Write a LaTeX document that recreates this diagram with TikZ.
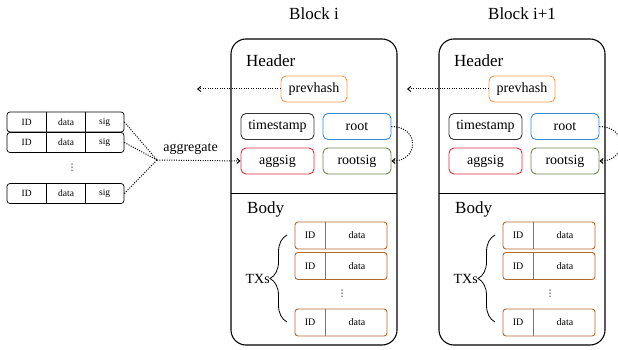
\documentclass[tikz,border=0pt]{standalone}
\usepackage{fontspec}
\setmainfont{Liberation Serif}
\newfontfamily\dotsfont{DejaVu Sans}
\usetikzlibrary{arrows.meta,decorations.pathreplacing,calc}
\definecolor{prevcol}{HTML}{F0A050}
\definecolor{rootcol}{HTML}{3A8AD6}
\definecolor{aggcol}{HTML}{D83040}
\definecolor{rootsigcol}{HTML}{6E8550}
\definecolor{tscol}{HTML}{333333}
\definecolor{txcol}{HTML}{B5672A}
\begin{document}
\begin{tikzpicture}[x=1pt,y=-1pt,
  lbl/.style={font=\fontsize{14}{16}\selectfont},
  big/.style={font=\fontsize{17}{20}\selectfont},
  small/.style={font=\fontsize{10}{12}\selectfont, inner sep=0pt},
  tiny/.style={font=\fontsize{9.5}{11}\selectfont, inner sep=0pt},
  vdot/.style={font=\dotsfont\fontsize{9}{10}\selectfont, inner sep=0pt},
  field/.style={draw, rounded corners=5pt, line width=0.9pt, minimum height=26pt, inner sep=0pt, font=\fontsize{14}{16}\selectfont},
  blockbox/.style={draw, line width=1.1pt, rounded corners=15pt, minimum width=166pt, minimum height=306pt, inner sep=0pt},
  txrow/.style={draw=txcol, line width=0.9pt, rounded corners=3pt, minimum width=92pt, minimum height=27pt, inner sep=0pt},
  cellrow/.style={draw, line width=0.7pt, rounded corners=3pt, minimum width=117pt, minimum height=20pt, inner sep=0pt},
  dotline/.style={line width=1pt, dash pattern=on 1pt off 1.4pt},
  dotarrow/.style={dotline, -{Straight Barb[length=3pt,width=5pt]}},
]
\useasboundingbox (0,0) rectangle (618,350);

\foreach \b/\dx/\t in {1/0/{Block i}, 2/208/{Block i+1}} {
  \node[blockbox] (blk\b) at (314+\dx,192) {};
  \node[big] (title\b) at (314+\dx,14) {\t};
  \node[big, anchor=base west, inner sep=0pt] (hdr\b) at (246+\dx,67) {Header};
  \draw[line width=0.9pt] (231+\dx,193) -- (397+\dx,193);
  \node[field, draw=prevcol, minimum width=66pt] (prev\b) at (314+\dx,89) {prevhash};
  \node[field, draw=tscol, minimum width=73pt] (ts\b) at (277.5+\dx,126.5) {timestamp};
  \node[field, draw=rootcol, minimum width=68pt] (root\b) at (357+\dx,126.5) {root};
  \node[field, draw=aggcol, minimum width=73pt] (agg\b) at (277.5+\dx,161) {aggsig};
  \node[field, draw=rootsigcol, minimum width=68pt] (rs\b) at (357+\dx,161) {rootsig};
  \draw[dotarrow] (root\b.east) .. controls +(28,0) and +(28,0) .. (rs\b.east);
  \node[big, anchor=base west, inner sep=0pt] (body\b) at (247+\dx,213) {Body};
  \foreach \r/\y in {1/235.5, 2/266, 3/322.5} {
    \node[txrow] (tx\b\r) at (341+\dx,\y) {};
    \draw[txcol, line width=0.9pt] (tx\b\r.north west) ++(31,0) -- ++(0,27);
    \node[small] at ($(tx\b\r.west)+(15.5,0)$) {ID};
    \node[small] at ($(tx\b\r.east)+(-30.5,0)$) {data};
  }
  \node[vdot] (vd\b) at (342+\dx,294) {⋮};
  \draw[decorate, decoration={brace, amplitude=17pt}, line width=0.8pt] (287+\dx,322) -- (287+\dx,235);
  \node[lbl, anchor=east, inner sep=0pt] (txs\b) at (270+\dx,278.5) {TXs};
}

% left stack of signed transactions
\foreach \r/\y in {1/122, 2/142.5, 3/193.5} {
  \node[cellrow] (row\r) at (65.5,\y) {};
  \draw[line width=0.7pt] (row\r.north west) ++(40,0) -- ++(0,20);
  \draw[line width=0.7pt] (row\r.north west) ++(79,0) -- ++(0,20);
  \node[tiny] at ($(row\r.west)+(20,0)$) {ID};
  \node[tiny] at ($(row\r.west)+(59.5,0)$) {data};
  \node[tiny] at ($(row\r.west)+(98,0)$) {sig};
}
\node[vdot] (lvd) at (72,168) {⋮};

\coordinate (junc) at (157,160);
\foreach \r in {1,2,3} { \draw[dotline] (row\r.east) -- (junc); }
\draw[dotarrow] (junc) -- (agg1.west);
\node[lbl] (aggl) at (190.5,149) {aggregate};

\coordinate (p0) at (197,89);
\draw[dotarrow] (prev1.west) -- (p0);
\coordinate (p1) at (407,89);
\draw[dotarrow] (prev2.west) -- (p1);
\end{tikzpicture}
\end{document}
